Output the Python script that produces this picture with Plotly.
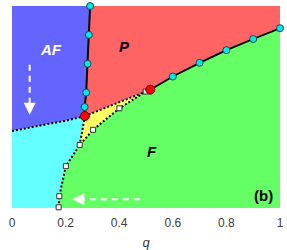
import plotly.graph_objects as go

# AF / P boundary (cyan circles), top to bottom
afp_q = [0.2915, 0.2868, 0.282, 0.2768, 0.271]
afp_T = [1.40, 1.20, 1.00, 0.80, 0.70]
# P / F boundary (cyan circles), left to right
pf_q = [0.600, 0.700, 0.800, 0.900, 1.000]
pf_T = [0.911, 1.006, 1.094, 1.171, 1.246]
# triple points (red)
tp_q = [0.272, 0.516]
tp_T = [0.637, 0.820]
# F boundary (white squares), bottom to top
f_q = [0.174, 0.1765, 0.201, 0.2526, 0.3026, 0.4007, 0.499]
f_T = [0.005, 0.082, 0.290, 0.437, 0.542, 0.691, 0.807]
# AF / cyan boundary (dotted), left to right
ac_q = [0.0, 0.05, 0.10, 0.15, 0.20, 0.272]
ac_T = [0.533, 0.553, 0.571, 0.588, 0.604, 0.637]

x_ticks = [0, 0.2, 0.4, 0.6, 0.8, 1]
x_labels = ["0", "0.2", "0.4", "0.6", "0.8", "1"]
T_top = 1.4

C_AF = "#6464FF"
C_P = "#FF6464"
C_F = "#64FF64"
C_C = "#64FFFF"
C_Y = "#FFFF64"

fig = go.Figure()

def poly(xs, ys, color):
    fig.add_trace(go.Scatter(x=xs, y=ys, mode="lines", fill="toself",
                             fillcolor=color, line=dict(width=0, color=color),
                             hoverinfo="skip", showlegend=False))

# AF region
xs = [0.0, afp_q[0]] + afp_q[1:] + [tp_q[0]] + ac_q[::-1][1:]
ys = [T_top, T_top] + afp_T[1:] + [tp_T[0]] + ac_T[::-1][1:]
poly(xs, ys, C_AF)
# P region
xs = afp_q + [tp_q[0], tp_q[1]] + pf_q + [1.0]
ys = afp_T + [tp_T[0], tp_T[1]] + pf_T + [T_top]
poly(xs, ys, C_P)
# green F region
xs = [f_q[0]] + f_q + [tp_q[1]] + pf_q + [1.0]
ys = [0.0] + f_T + [tp_T[1]] + pf_T + [0.0]
poly(xs, ys, C_F)
# cyan region
xs = [0.0] + ac_q + f_q[3::-1] + [f_q[0]]
ys = [0.0] + ac_T + f_T[3::-1] + [0.0]
poly(xs, ys, C_C)
# yellow region
xs = [tp_q[0], tp_q[1]] + f_q[:2:-1]
ys = [tp_T[0], tp_T[1]] + f_T[:2:-1]
poly(xs, ys, C_Y)

def line(xs, ys, dash=None, width=1.8):
    fig.add_trace(go.Scatter(x=xs, y=ys, mode="lines",
                             line=dict(color="black", width=width, dash=dash),
                             hoverinfo="skip", showlegend=False, cliponaxis=False))

line(afp_q + [tp_q[0]], afp_T + [tp_T[0]], width=2)
line([tp_q[1]] + pf_q, [tp_T[1]] + pf_T, width=1.8)
line(ac_q, ac_T, dash="2px,2px", width=2)
line(tp_q, tp_T, dash="2px,2px", width=2)
line([tp_q[0], f_q[3]], [tp_T[0], f_T[3]], dash="2px,2px", width=2)
line(f_q + [tp_q[1]], f_T + [tp_T[1]], dash="2px,2px", width=2)

# dashed white arrows
fig.add_trace(go.Scatter(x=[0.066, 0.066], y=[0.992, 0.70], mode="lines",
                         line=dict(color="white", width=2, dash="6px,5px"),
                         hoverinfo="skip", showlegend=False))
fig.add_trace(go.Scatter(x=[0.477, 0.25], y=[0.061, 0.061], mode="lines",
                         line=dict(color="white", width=2, dash="6px,5px"),
                         hoverinfo="skip", showlegend=False))
fig.add_annotation(x=0.066, y=0.646, ax=0.066, ay=0.70, xref="x", yref="y",
                   axref="x", ayref="y", text="", showarrow=True,
                   arrowhead=2, arrowsize=1.2, arrowwidth=2, arrowcolor="white")
fig.add_annotation(x=0.225, y=0.061, ax=0.26, ay=0.061, xref="x", yref="y",
                   axref="x", ayref="y", text="", showarrow=True,
                   arrowhead=2, arrowsize=1.2, arrowwidth=2, arrowcolor="white")

# markers
fig.add_trace(go.Scatter(x=afp_q + pf_q, y=afp_T + pf_T, mode="markers",
                         marker=dict(symbol="circle", size=7, color="#00E8E8",
                                     line=dict(color="#1a4a4a", width=1)),
                         hoverinfo="skip", showlegend=False, cliponaxis=False))
fig.add_trace(go.Scatter(x=f_q, y=f_T, mode="markers",
                         marker=dict(symbol="square", size=5, color="white",
                                     line=dict(color="#333333", width=1)),
                         hoverinfo="skip", showlegend=False, cliponaxis=False))
fig.add_trace(go.Scatter(x=tp_q, y=tp_T, mode="markers",
                         marker=dict(symbol="circle", size=9, color="#FF0000",
                                     line=dict(color="#600000", width=1)),
                         hoverinfo="skip", showlegend=False, cliponaxis=False))

lab_font = "Liberation Sans, Arial, sans-serif"
fig.add_annotation(x=0.145, y=1.10, text="<b><i>AF</i></b>", showarrow=False,
                   font=dict(family=lab_font, size=15, color="white"))
fig.add_annotation(x=0.421, y=1.12, text="<b><i>P</i></b>", showarrow=False,
                   font=dict(family=lab_font, size=15, color="black"))
fig.add_annotation(x=0.522, y=0.393, text="<b><i>F</i></b>", showarrow=False,
                   font=dict(family=lab_font, size=15, color="black"))
fig.add_annotation(x=0.94, y=0.088, text="<b>(b)</b>", showarrow=False,
                   font=dict(family=lab_font, size=15, color="black"))

fig.update_layout(
    width=287, height=250,
    margin=dict(l=12, r=3, t=6, b=38),
    paper_bgcolor="white", plot_bgcolor="white",
    showlegend=False,
    xaxis=dict(range=[0, 1], tickvals=x_ticks, ticktext=x_labels,
               showgrid=False, zeroline=False, showline=False, ticks="",
               ticklabelstandoff=6, ticklabeloverflow="allow",
               tickfont=dict(family=lab_font, size=12, color="#404040"),
               title=dict(text="<i>q</i>", standoff=8,
                          font=dict(family=lab_font, size=13, color="#404040"))),
    yaxis=dict(range=[0, T_top], visible=False),
)

fig.write_html("out.html", config={"displayModeBar": False},
               post_script="document.body.style.margin='0';document.body.style.overflow='hidden';")
